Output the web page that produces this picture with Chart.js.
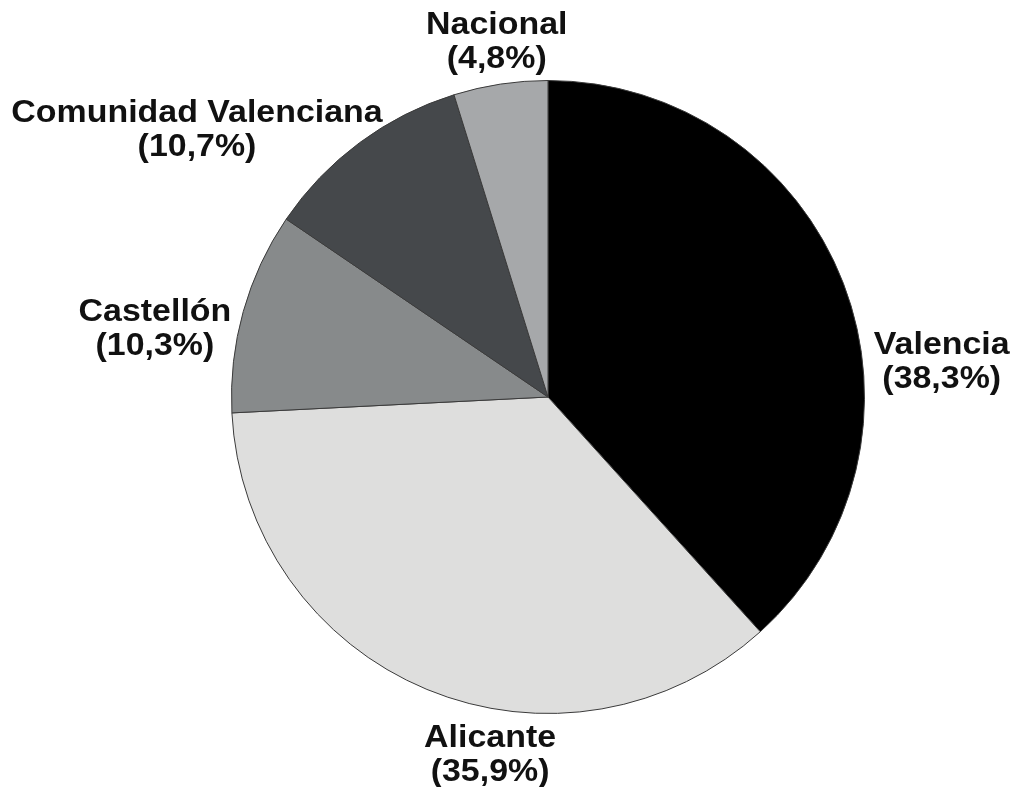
<!DOCTYPE html>
<html lang="es">
<head>
    <meta charset="UTF-8">
    <title>Distribución</title>
    <style>
        html, body { margin: 0; padding: 0; background: #fff; }
        #wrap { width: 1014px; height: 787px; position: relative; }
    </style>
</head>
<body>
    <div id="wrap"><canvas id="pie"></canvas></div>

    <script src="https://cdn.jsdelivr.net/npm/chart.js"></script>
    <script>
        const labels = ['Valencia', 'Alicante', 'Castellón', 'Comunidad Valenciana', 'Nacional'];
        const values = [38.3, 35.9, 10.3, 10.7, 4.8];
        const colors = ['#000000', '#dededd', '#878a8b', '#45484b', '#a6a8aa'];

        // label centre relative to pie centre, in units of the radius
        const labelPos = [
            [1.244, -0.117],
            [-0.183, 1.122],
            [-1.242, -0.224],
            [-1.109, -0.852],
            [-0.162, -1.128]
        ];

        const fmt = v => '(' + v.toFixed(1).replace('.', ',') + '%)';

        const outsideLabels = {
            id: 'outsideLabels',
            afterDraw(chart) {
                const ctx = chart.ctx;
                const arcs = chart.getDatasetMeta(0).data;
                ctx.save();
                ctx.fillStyle = '#111';
                ctx.font = 'bold 32px "Liberation Sans", Arial, sans-serif';
                ctx.textAlign = 'center';
                ctx.textBaseline = 'alphabetic';
                arcs.forEach((arc, i) => {
                    const r = arc.outerRadius;
                    const x = arc.x + labelPos[i][0] * r;
                    const y = arc.y + labelPos[i][1] * r;
                    // slightly wider lettering, as in the original
                    ctx.save();
                    ctx.translate(x, 0);
                    ctx.scale(1.06, 1);
                    ctx.fillText(labels[i], 0, y - 17 + 11.5);
                    ctx.fillText(fmt(values[i]), 0, y + 17 + 11.5);
                    ctx.restore();
                });
                ctx.restore();
            }
        };

        new Chart(document.getElementById('pie'), {
            type: 'pie',
            data: {
                labels: labels,
                datasets: [{
                    data: values,
                    backgroundColor: colors,
                    borderColor: '#3a3a3a',
                    borderWidth: 1
                }]
            },
            options: {
                responsive: true,
                maintainAspectRatio: false,
                animation: false,
                layout: { padding: { left: 231, right: 149, top: 80, bottom: 73 } },
                plugins: {
                    legend: { display: false },
                    tooltip: { enabled: false }
                }
            },
            plugins: [outsideLabels]
        });
    </script>
</body>
</html>
